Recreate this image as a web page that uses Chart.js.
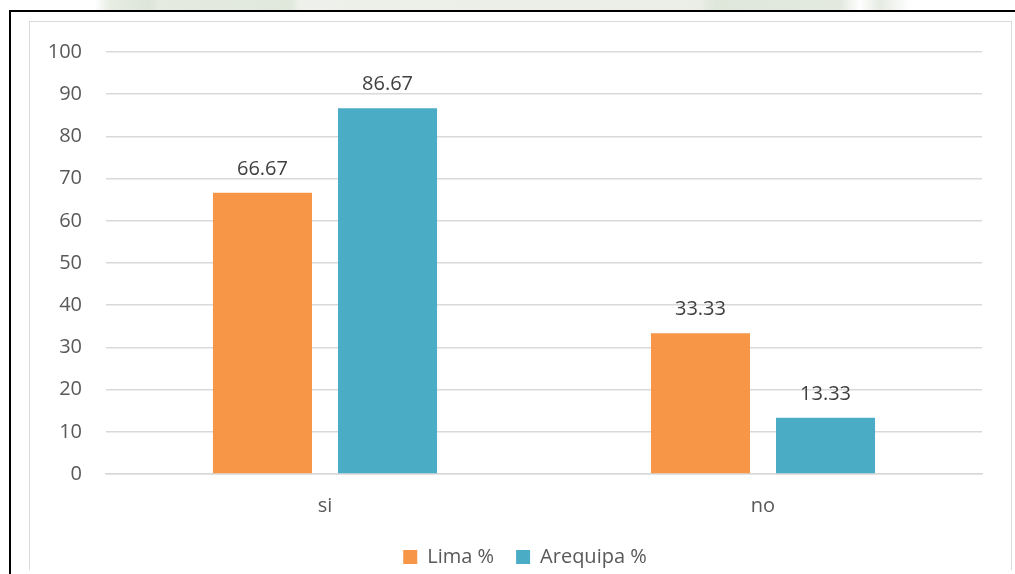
<!DOCTYPE html>
<html lang="es">
<head>
    <meta charset="UTF-8">
    <title>Lima vs Arequipa</title>
    <script src="https://cdn.jsdelivr.net/npm/chart.js"></script>
    <style>
        html, body {
            margin: 0;
            padding: 0;
            background: #fff;
            width: 1015px;
            height: 574px;
            overflow: hidden;
        }

        .watermark {
            position: absolute;
            left: 0;
            top: 0;
            width: 1015px;
            height: 10px;
            background: linear-gradient(90deg, #fff 0px, #fff 95px, #e8ede4 110px, #dde4d8 150px, #e6ebe2 160px, #e0e7db 290px, #eef1eb 300px, #eaeee6 700px, #dfe6da 715px, #e3e9df 840px, #fff 860px, #e6ebe2 880px, #fff 910px, #fff 1015px);
        }

        .outer-frame {
            position: absolute;
            left: 9px;
            top: 10px;
            width: 1020px;
            height: 580px;
            border-left: 2px solid #000;
            border-top: 2px solid #000;
        }

        .inner-frame {
            position: absolute;
            left: 29px;
            top: 21px;
            width: 981px;
            height: 548px;
            border: 1.5px solid #d9d9d9;
            border-bottom: none;
        }

        #barChart {
            position: absolute;
            left: 0;
            top: 0;
        }
    </style>
</head>
<body>
    <div class="watermark"></div>
    <div class="outer-frame"></div>
    <div class="inner-frame"></div>
    <canvas id="barChart" width="1015" height="574"></canvas>

    <script>
        // datos del gráfico
        const categorias = ['si', 'no'];
        const lima = [66.67, 33.33];
        const arequipa = [86.67, 13.33];
        const ticksY = [0, 10, 20, 30, 40, 50, 60, 70, 80, 90, 100];

        const fuente = "'Open Sans', 'Noto Sans', sans-serif";

        // etiquetas encima de cada barra
        const etiquetasPlugin = {
            id: 'etiquetas',
            afterDatasetsDraw(chart) {
                const ctx = chart.ctx;
                ctx.save();
                ctx.font = '20px ' + fuente;
                ctx.fillStyle = '#404040';
                ctx.textAlign = 'center';
                ctx.textBaseline = 'alphabetic';
                chart.data.datasets.forEach((ds, i) => {
                    chart.getDatasetMeta(i).data.forEach((bar, j) => {
                        ctx.fillText(ds.data[j].toFixed(2), bar.x, bar.y - 18);
                    });
                });
                ctx.restore();
            }
        };

        // la leyenda del original queda un poco a la derecha del centro
        const moverLeyenda = {
            id: 'moverLeyenda',
            afterLayout(chart) {
                const lg = chart.legend;
                if (!lg) return;
                lg.left += 19;
                lg.right += 19;
            }
        };

        new Chart(document.getElementById('barChart'), {
            type: 'bar',
            data: {
                labels: categorias,
                datasets: [{
                    label: 'Lima %',
                    data: lima,
                    backgroundColor: '#F79646'
                }, {
                    label: 'Arequipa %',
                    data: arequipa,
                    backgroundColor: '#4BACC6'
                }]
            },
            options: {
                responsive: false,
                animation: false,
                devicePixelRatio: 1,
                categoryPercentage: 0.571,
                barPercentage: 0.792,
                layout: {
                    padding: { left: 30, right: 33, top: 52, bottom: -3 }
                },
                plugins: {
                    tooltip: { enabled: false },
                    legend: {
                        position: 'bottom',
                        labels: {
                            font: { family: fuente, size: 20 },
                            color: '#595959',
                            boxWidth: 14,
                            boxHeight: 14,
                            padding: 22
                        }
                    }
                },
                scales: {
                    y: {
                        min: 0,
                        max: 100,
                        afterFit(scale) { scale.width = 76; },
                        afterBuildTicks(scale) {
                            scale.ticks = ticksY.map(v => ({ value: v }));
                        },
                        border: { display: false },
                        grid: { color: '#d9d9d9', lineWidth: 1.5, drawTicks: false },
                        ticks: {
                            padding: 24,
                            color: '#595959',
                            font: { family: fuente, size: 20 }
                        }
                    },
                    x: {
                        afterFit(scale) { scale.height = 51; },
                        border: { color: '#d9d9d9', width: 1.5 },
                        grid: { display: false },
                        ticks: {
                            padding: 12,
                            color: '#595959',
                            font: { family: fuente, size: 20 }
                        }
                    }
                }
            },
            plugins: [etiquetasPlugin, moverLeyenda]
        });
    </script>
</body>
</html>
